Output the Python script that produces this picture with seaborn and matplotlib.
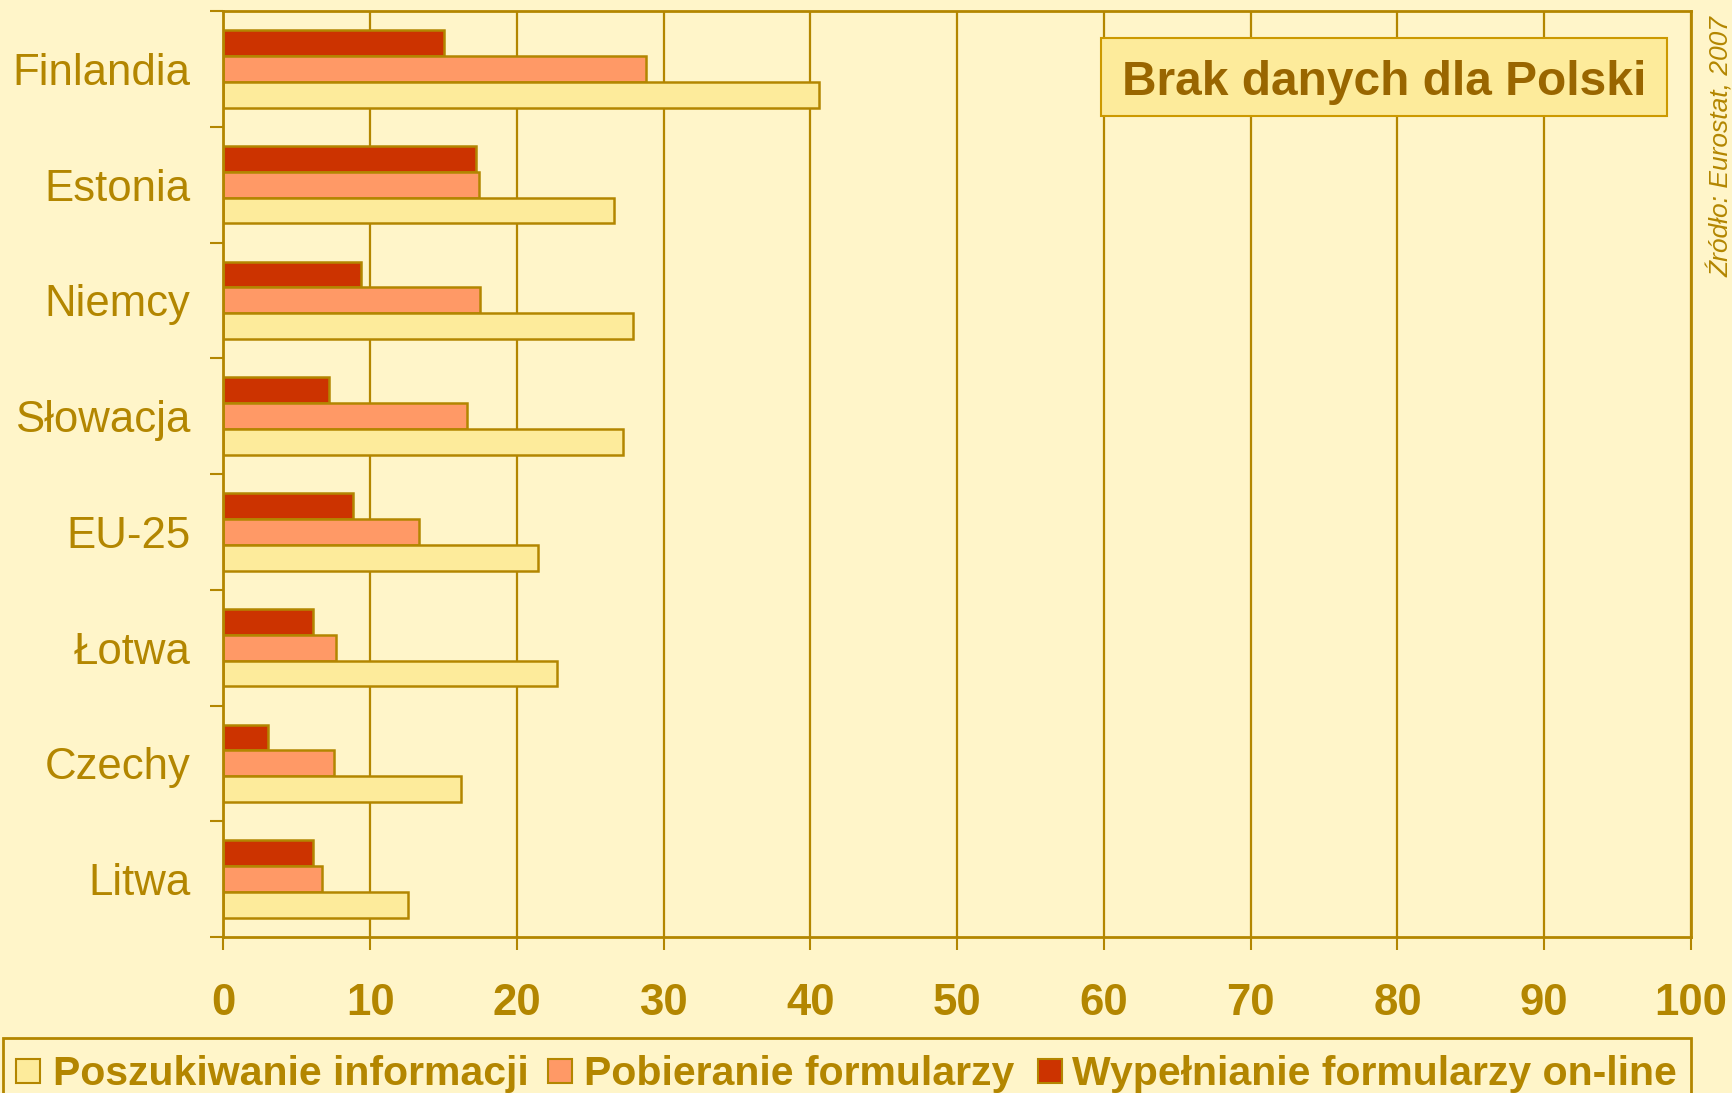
import numpy as np
import pandas as pd
import matplotlib
matplotlib.use("Agg")
import matplotlib.pyplot as plt
import seaborn as sns
from matplotlib.patches import Rectangle

# Share of individuals using e-government services (%), 2007
countries = ["Finlandia", "Estonia", "Niemcy", "Słowacja", "EU-25", "Łotwa", "Czechy", "Litwa"]
poszukiwanie = [40.6, 26.6, 27.9, 27.2, 21.4, 22.7, 16.2, 12.6]
pobieranie = [28.8, 17.4, 17.5, 16.6, 13.3, 7.7, 7.5, 6.7]
wypelnianie = [15.0, 17.2, 9.4, 7.2, 8.8, 6.1, 3.0, 6.1]

series_names = ["Poszukiwanie informacji", "Pobieranie formularzy", "Wypełnianie formularzy on-line"]
x_ticks = list(range(0, 101, 10))
note_text = "Brak danych dla Polski"
source_text = "Źródło: Eurostat, 2007"

BG = "#FFF5C9"
GOLD = "#B38600"
YELLOW = "#FDEB9B"
ORANGE = "#FF9966"
RED = "#CC3300"
colors = dict(zip(series_names, [YELLOW, ORANGE, RED]))

W, H, DPI = 1733, 1093, 100

sns.set_style("white")
plt.rcParams["font.family"] = ["Liberation Sans", "DejaVu Sans"]


def fx(px):
    return px / W


def fy(py):
    return 1 - py / H


df = pd.DataFrame({
    "kraj": countries,
    series_names[0]: poszukiwanie,
    series_names[1]: pobieranie,
    series_names[2]: wypelnianie,
}).melt(id_vars="kraj", var_name="seria", value_name="wartosc")

fig = plt.figure(figsize=(W / DPI, H / DPI), dpi=DPI, facecolor=BG)
ax = fig.add_axes([fx(223.5), fy(937), (1691 - 223.5) / W, (937 - 11) / H])
ax.set_facecolor(BG)

sns.barplot(
    data=df, x="wartosc", y="kraj", hue="seria",
    hue_order=series_names[::-1], palette=colors, orient="y",
    width=0.67, saturation=1, edgecolor=GOLD, linewidth=1.8,
    legend=False, ax=ax,
)

ax.set_xlim(0, 100)
ax.set_ylim(7.5, -0.5)
ax.set_xticks(x_ticks)
ax.set_xlabel("")
ax.set_ylabel("")
ax.set_axisbelow(True)
ax.grid(axis="x", color=GOLD, linewidth=1.6)
ax.grid(axis="y", visible=False)

ax.tick_params(axis="x", bottom=True, direction="out", length=9.4, width=1.5,
               color=GOLD, labelsize=31.5, labelcolor=GOLD, pad=24)
for lbl in ax.get_xticklabels():
    lbl.set_fontweight("bold")

ax.set_yticks(np.arange(-0.5, 8, 1), minor=True)
ax.tick_params(axis="y", which="major", left=False, length=0,
               labelsize=31.5, labelcolor=GOLD, pad=24)
ax.tick_params(axis="y", which="minor", left=True, direction="out",
               length=9.4, width=1.5, color=GOLD)

for s in ax.spines.values():
    s.set_visible(True)
    s.set_color(GOLD)
    s.set_linewidth(2.0)

# Note box in the upper right corner
fig.add_artist(Rectangle((fx(1101), fy(116)), (1667 - 1101) / W, (116 - 38) / H,
                         transform=fig.transFigure, facecolor=YELLOW,
                         edgecolor="#CC9900", linewidth=1.5))
fig.text(fx(1384), fy(95), note_text, ha="center", va="baseline",
         fontsize=34.5, fontweight="bold", color="#996600")

# Source, rotated along the right edge
fig.text(fx(1721), fy(16), source_text, rotation=90, ha="center", va="top",
         fontsize=19, style="italic", color=GOLD)

# Legend strip along the bottom edge
fig.add_artist(Rectangle((fx(3), fy(1110)), (1691 - 3) / W, (1110 - 1038) / H,
                         transform=fig.transFigure, fill=False,
                         edgecolor=GOLD, linewidth=2.0, clip_on=False))
patch_x = [16, 548, 1038]
text_x = [53, 584, 1072]
for name, px, tx in zip(series_names, patch_x, text_x):
    fig.add_artist(Rectangle((fx(px), fy(1083)), 24 / W, 24 / H,
                             transform=fig.transFigure, facecolor=colors[name],
                             edgecolor=GOLD, linewidth=1.5))
    fig.text(fx(tx), fy(1085), name, ha="left", va="baseline",
             fontsize=29.5, fontweight="bold", color=GOLD)

fig.savefig("out.png", dpi=DPI, facecolor=BG)
